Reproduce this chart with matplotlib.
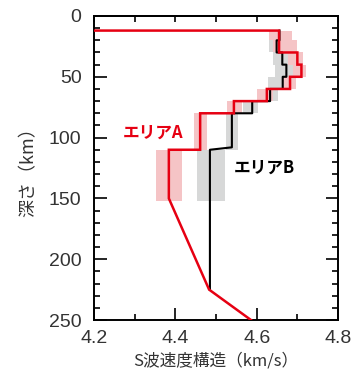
import numpy as np
import matplotlib.pyplot as plt

plt.rcParams['font.family'] = ['Liberation Sans', 'Noto Sans CJK JP']

# エリアA (red): layer boundaries (km) and S-wave velocity (km/s)
a_bounds = [12, 30, 40, 50, 60, 70, 80, 110, 150]
a_vs = [4.655, 4.700, 4.710, 4.682, 4.625, 4.544, 4.461, 4.384]
a_grad_depth = [150, 225, 250]
a_grad_vs = [4.384, 4.483, 4.586]

# エリアB (black)
b_bounds = [12, 20, 30, 40, 50, 60, 70, 80, 108]
b_vs = [4.656, 4.649, 4.663, 4.673, 4.664, 4.633, 4.589, 4.539]
b_deep_depth = [110, 225]
b_deep_vs = [4.485, 4.485]

# uncertainty bands per 10-km layer
band_bounds = [12, 20, 30, 40, 50, 60, 70, 80, 110, 152]
pink_lo = [4.630, 4.640, 4.678, 4.690, 4.665, 4.600, 4.526, 4.446, 4.352]
pink_hi = [4.686, 4.700, 4.714, 4.722, 4.696, 4.641, 4.563, 4.477, 4.416]
gray_lo = [4.630, 4.630, 4.641, 4.645, 4.629, 4.620, 4.567, 4.524, 4.453]
gray_hi = [4.676, 4.668, 4.685, 4.700, 4.682, 4.653, 4.604, 4.555, 4.522]

red = '#e60012'
pink = '#f5c4c6'
gray = '#d7d8d8'


def steps(bounds, vs):
    xs, ys = [], []
    for i, v in enumerate(vs):
        xs += [v, v]
        ys += [bounds[i], bounds[i + 1]]
    return xs, ys


fig = plt.figure(figsize=(3.58, 3.78), dpi=100)
ax = fig.add_axes([0.2626, 0.1534, 0.6816, 0.8043])

for i in range(len(gray_lo)):
    ax.fill_betweenx([band_bounds[i], band_bounds[i + 1]], gray_lo[i], gray_hi[i],
                     color=gray, lw=0, zorder=1)
for i in range(len(pink_lo)):
    ax.fill_betweenx([band_bounds[i], band_bounds[i + 1]], pink_lo[i], pink_hi[i],
                     color=pink, lw=0, zorder=2)

bx, by = steps(b_bounds, b_vs)
ax.plot(bx + b_deep_vs, by + b_deep_depth, color='black', lw=1.5, zorder=3)

ax_, ay_ = steps(a_bounds, a_vs)
ax.plot([4.0] + ax_ + a_grad_vs[1:], [a_bounds[0]] + ay_ + a_grad_depth[1:],
        color=red, lw=1.8, zorder=4, solid_joinstyle='miter')

ax.text(4.345, 96, 'エリアA', color=red, fontsize=12, fontweight='bold',
        ha='center', va='center', family=['Noto Sans CJK JP'])
ax.text(4.618, 125, 'エリアB', color='black', fontsize=12, fontweight='bold',
        ha='center', va='center', family=['Noto Sans CJK JP'])

ax.set_xlim(4.2, 4.8)
ax.set_ylim(250, 0)
ax.set_xticks([4.2, 4.4, 4.6, 4.8])
ax.set_xticks([4.3, 4.5, 4.7], minor=True)
ax.set_yticks([0, 50, 100, 150, 200, 250])
ax.set_yticks(np.arange(0, 251, 10), minor=True)
ax.tick_params(which='both', direction='in', width=1.2, labelsize=14,
               labelcolor='#333333', right=True)
ax.tick_params(which='major', length=9, pad=9)
ax.tick_params(which='minor', length=4)
ax.tick_params(axis='x', which='major', pad=7)
top = ax.secondary_xaxis('top')
top.set_xticks([4.2, 4.3, 4.4, 4.5, 4.6, 4.7, 4.8])
top.tick_params(direction='in', length=4, width=1.2, labeltop=False)
for s in ax.spines.values():
    s.set_linewidth(1.4)
for s in top.spines.values():
    s.set_linewidth(1.4)

ax.set_xlabel('S波速度構造（km/s）', fontsize=12, color='#333333',
              family=['Noto Sans CJK JP'], labelpad=4)
ax.set_ylabel('深さ（km）', fontsize=13, color='#333333',
              family=['Noto Sans CJK JP'], labelpad=8)

fig.savefig('out.png', dpi=100)
